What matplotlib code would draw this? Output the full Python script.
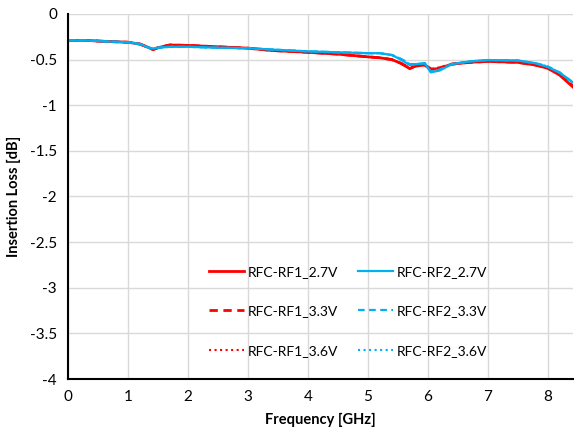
import matplotlib.pyplot as plt

# frequency points [GHz]
freq = [0.0, 0.3, 0.6, 1.0, 1.2, 1.35, 1.42, 1.5, 1.7, 2.0, 2.5, 3.0, 3.4, 4.0, 4.5,
        5.0, 5.2, 5.4, 5.55, 5.7, 5.8, 5.95, 6.05, 6.2, 6.4, 6.7, 7.0, 7.5, 7.8, 8.0, 8.2, 8.42]

# insertion loss [dB]
rf1_27 = [-0.29, -0.29, -0.30, -0.31, -0.33, -0.37, -0.39, -0.37, -0.34, -0.345, -0.36, -0.375, -0.40, -0.42, -0.44,
          -0.47, -0.48, -0.50, -0.54, -0.60, -0.57, -0.56, -0.61, -0.595, -0.55, -0.53, -0.52, -0.53, -0.56, -0.595, -0.67, -0.80]
rf2_27 = [-0.29, -0.29, -0.30, -0.31, -0.33, -0.37, -0.38, -0.37, -0.36, -0.36, -0.37, -0.375, -0.39, -0.41, -0.42,
          -0.43, -0.43, -0.45, -0.50, -0.56, -0.55, -0.54, -0.64, -0.62, -0.55, -0.52, -0.505, -0.51, -0.54, -0.58, -0.645, -0.75]
rf1_33 = [-0.29, -0.29, -0.30, -0.31, -0.33, -0.37, -0.39, -0.37, -0.34, -0.345, -0.36, -0.375, -0.40, -0.42, -0.44,
          -0.47, -0.48, -0.50, -0.54, -0.59, -0.57, -0.56, -0.60, -0.59, -0.55, -0.53, -0.52, -0.53, -0.56, -0.59, -0.66, -0.79]
rf2_33 = [-0.29, -0.29, -0.30, -0.31, -0.33, -0.37, -0.38, -0.37, -0.36, -0.36, -0.37, -0.375, -0.39, -0.41, -0.42,
          -0.43, -0.43, -0.45, -0.49, -0.55, -0.55, -0.54, -0.63, -0.61, -0.55, -0.52, -0.505, -0.51, -0.54, -0.575, -0.64, -0.75]
rf1_36 = rf1_33
rf2_36 = rf2_33

red = '#ff0000'
blue = '#00b0f0'

plt.rcParams['font.family'] = ['Lato', 'DejaVu Sans']

fig = plt.figure(figsize=(5.74, 4.36), dpi=100)
ax = fig.add_axes([0.1185, 0.1307, 0.8795, 0.8373])

# legend fills column-wise, so RF1 lines first
ax.plot(freq, rf1_27, color=red, lw=2, label='RFC-RF1_2.7V')
ax.plot(freq, rf1_33, color=red, lw=2, ls=(0, (3, 2)), label='RFC-RF1_3.3V')
ax.plot(freq, rf1_36, color=red, lw=1.5, ls=':', label='RFC-RF1_3.6V')
ax.plot(freq, rf2_27, color=blue, lw=1.6, label='RFC-RF2_2.7V')
ax.plot(freq, rf2_33, color=blue, lw=1.6, ls=(0, (3, 2)), label='RFC-RF2_3.3V')
ax.plot(freq, rf2_36, color=blue, lw=1.5, ls=':', label='RFC-RF2_3.6V')

ax.set_xlim(0, 8.42)
ax.set_ylim(-4, 0)
ax.set_xticks(range(0, 9))
ax.set_yticks([0, -0.5, -1, -1.5, -2, -2.5, -3, -3.5, -4])
ax.set_yticklabels(['0', '-0.5', '-1', '-1.5', '-2', '-2.5', '-3', '-3.5', '-4'])
ax.grid(True, color='#d9d9d9', lw=1)
ax.set_axisbelow(True)
ax.tick_params(length=0, labelsize=11, pad=8)
for s in ['top', 'right']:
    ax.spines[s].set_visible(False)
for s in ['left', 'bottom']:
    ax.spines[s].set_linewidth(1.5)
    ax.spines[s].set_color('black')

ax.set_xlabel('Frequency [GHz]', fontsize=10.5, fontweight='bold', labelpad=6)
ax.set_ylabel('Insertion Loss [dB]', fontsize=10.5, fontweight='bold', labelpad=6)

leg = ax.legend(ncol=2, loc='upper left', bbox_to_anchor=(0.255, 0.345), frameon=False,
                fontsize=10, handlelength=2.5, columnspacing=1.4, labelspacing=2.0,
                handletextpad=0.3)

fig.savefig('out.png', dpi=100)
